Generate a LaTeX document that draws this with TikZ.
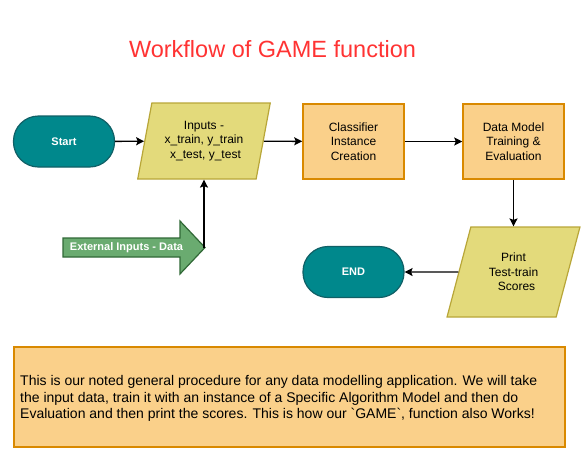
\documentclass[tikz,border=0pt]{standalone}
\usepackage{fontspec}
\setmainfont{Liberation Sans}
\usetikzlibrary{shapes.geometric,shapes.misc,arrows.meta}
\definecolor{teal1}{RGB}{0,136,140}
\definecolor{teal2}{RGB}{16,96,102}
\definecolor{yel1}{RGB}{227,218,123}
\definecolor{yel2}{RGB}{184,166,56}
\definecolor{org1}{RGB}{250,208,138}
\definecolor{org2}{RGB}{217,137,0}
\definecolor{grn1}{RGB}{106,171,112}
\definecolor{grn2}{RGB}{48,104,54}
\definecolor{titred}{RGB}{255,51,51}
\tikzset{
  term/.style={rectangle, rounded corners=25pt, fill=teal1, draw=teal2, line width=1.2pt, minimum width=101pt, minimum height=51pt, text=white, font=\fontsize{11}{13}\selectfont\bfseries},
  io/.style={trapezium, trapezium stretches=true, fill=yel1, draw=yel2, line width=1.2pt, align=center, font=\fontsize{12}{14.5}\selectfont, inner sep=0pt},
  proc/.style={rectangle, fill=org1, draw=org2, line width=1.5pt, minimum width=101pt, minimum height=75pt, align=center, font=\fontsize{12}{14.5}\selectfont},
  conn/.style={line width=1.4pt, -{Stealth[length=8pt,width=8pt,inset=1.5pt]}},
}
\begin{document}
\begin{tikzpicture}[x=1pt,y=-1pt]
\useasboundingbox (0,0) rectangle (584,467);
\node[text=titred, font=\fontsize{23.5}{26}\selectfont] (title) at (272.5,49) {Workflow of GAME function};
\node[term] (start) at (64,141.5) {Start};
\node[io, trapezium left angle=75, trapezium right angle=105, minimum width=134pt, minimum height=76pt] (inp) at (204,141) {Inputs -\\x\_train, y\_train\\\hspace{3pt}x\_test, y\_test};
\node[proc] (cls) at (353.5,141.5) {Classifier\\Instance\\Creation};
\node[proc] (dm) at (513.5,141.5) {Data Model\\Training \&\\Evaluation};
\node[io, trapezium left angle=70, trapezium right angle=110, minimum width=133pt, minimum height=90pt] (prt) at (513.5,272) {Print\\Test-train\\\hspace{6pt}Scores};
\node[term] (end) at (353.5,272) {END};
% external inputs arrow
\draw[fill=grn1, draw=grn2, line width=1.2pt] (63,238) -- (180,238) -- (180,221) -- (205,247.5) -- (180,274) -- (180,257) -- (63,257) -- cycle;
\node[text=white, font=\fontsize{11}{13}\selectfont\bfseries, inner sep=0pt] (ext) at (126.5,247.5) {External Inputs - Data};
\coordinate (exttip) at (204,247.5);
% connectors
\draw[conn] (start) -- (inp);
\draw[conn] (inp) -- (cls);
\draw[conn] (cls) -- (dm);
\draw[conn] (dm.south) -- (dm.south |- prt.north);
\draw[conn] (prt) -- (end);
\draw[conn] (exttip) -- (exttip |- inp.south);
% note box
\node[rectangle, fill=org1, draw=org2, line width=1.5pt, minimum width=551pt, minimum height=100pt] (note) at (289.5,397) {};
\node[anchor=west, align=left, inner sep=0pt, font=\fontsize{14}{16.5}\selectfont] (notetext) at (20,398.5) {This is our noted general procedure for any data modelling application. We will take\\the input data, train it with an instance of a Specific Algorithm Model and then do\\Evaluation and then print the scores. This is how our \textasciigrave GAME\textasciigrave, function also Works!};
\end{tikzpicture}
\end{document}
